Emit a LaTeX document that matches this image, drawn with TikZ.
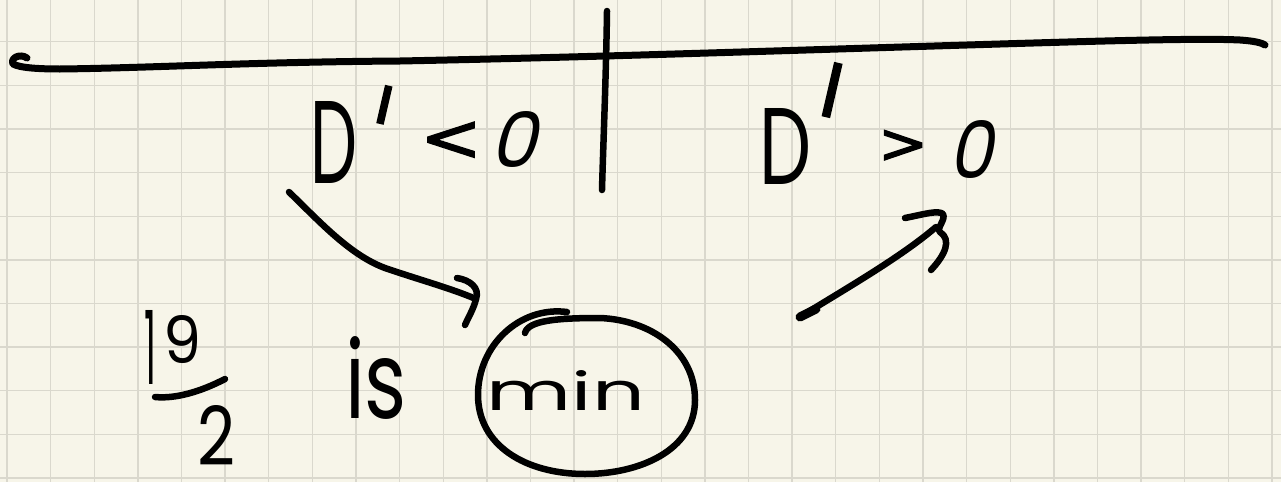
\documentclass[tikz,border=0pt]{standalone}
\usepackage{fontspec}
\usepackage{graphicx}
\newfontfamily\hand{Poppins}
\newfontfamily\relfont[FakeBold=2]{DejaVu Sans}
\definecolor{paper}{RGB}{247,245,233}
\definecolor{rule}{RGB}{218,216,205}
% a glyph stretched to a given width and height (in pt)
\newcommand\glyphbox[3]{\resizebox{#1pt}{#2pt}{\hand #3}}
% marks trimmed to their ink before stretching
\newcommand\primebox[2]{\resizebox{#1pt}{#2pt}{\relfont\kern-0.09em\raisebox{-0.5em}[0.23em][0pt]{'}\kern-0.09em}}
\newcommand\relbox[3]{\resizebox{#1pt}{#2pt}{\relfont\kern-0.1em\raisebox{-0.12em}[0.5em][0pt]{#3}\kern-0.1em}}
\begin{document}
\begin{tikzpicture}[x=1pt,y=-1pt,
  ink/.style={draw=black,line width=6.5pt,line cap=round,line join=round},
  gridline/.style={draw=rule,line width=1.4pt},
  glyph/.style={inner sep=0pt,outer sep=0pt,text=black,anchor=center}]
% paper and squared grid
\fill[paper] (0,0) rectangle (1281,482);
\useasboundingbox (0,0) rectangle (1281,482);
\foreach \k in {0,...,29} \draw[gridline] ({7+43.62*\k},0) -- ({7+43.62*\k},482);
\foreach \k in {1,...,11} \draw[gridline] (0,{-1.9+43.62*\k}) -- (1281,{-1.9+43.62*\k});

% number line with the split at the critical point
\draw[ink,line width=7pt] (27,58) .. controls (20,53) and (10,58) .. (13,64)
  .. controls (20,68) and (40,69) .. (60,69)
  .. controls (150,68) and (250,62) .. (400,61)
  .. controls (600,57) and (800,50) .. (1000,44)
  .. controls (1100,41) and (1200,38) .. (1240,40)
  .. controls (1255,41) and (1262,43) .. (1265,45);
\draw[ink] (607,11) .. controls (606,80) and (603,150) .. (602,190);

% sign of D' on each side
\node[glyph] (dL) at (334,142) {\glyphbox{47}{82}{D}};
\node[glyph,rotate=-13] (primeL) at (385,102) {\primebox{7}{31}};
\node[glyph] (ltL) at (451,136) {\relbox{47}{33}{<}};
\node[glyph,xslant=0.25] (zeroL) at (520,139) {\glyphbox{46}{56}{0}};

\node[glyph] (dR) at (786,146) {\glyphbox{52}{76}{D}};
\node[glyph,rotate=-13] (primeR) at (833,86) {\primebox{8}{44}};
\node[glyph] (gtR) at (903,142) {\relbox{38}{28}{>}};
\node[glyph,xslant=0.2] (zeroR) at (976,149) {\glyphbox{44}{58}{0}};

% 19/2 is min
\node[glyph] (one) at (150,347) {\glyphbox{12}{74}{1}};
\node[glyph] (nine) at (183,340) {\glyphbox{38}{48}{9}};
\coordinate (barL) at (155,397);
\coordinate (barR) at (225,379);
\draw[ink] (barL) .. controls (175,399) and (200,392) .. (barR);
\node[glyph] (two) at (216,435) {\glyphbox{38}{60}{2}};
\node[glyph] (is) at (376,378) {\glyphbox{62}{82}{is}};
\node[glyph] (min) at (566,390) {\glyphbox{158}{40}{min}};

% loop round "min"
\draw[ink] (525,333) .. controls (528,320) and (560,318) .. (600,318)
  .. controls (650,320) and (695,350) .. (695,400)
  .. controls (695,450) and (640,474) .. (585,474)
  .. controls (525,474) and (478,445) .. (478,395)
  .. controls (478,345) and (520,306) .. (567,312);

% decreasing part leads down into the minimum
\coordinate (a1s) at (289,192);
\coordinate (a1e) at (476,299);
\draw[ink] (a1s) .. controls (320,222) and (350,255) .. (385,268)
  .. controls (420,280) and (450,288) .. (a1e);
\draw[ink] (457,278) .. controls (470,280) and (480,288) .. (a1e)
  .. controls (474,308) and (468,318) .. (465,325);

% increasing part leaves the minimum
\coordinate (a2s) at (800,317);
\coordinate (a2e) at (936,227);
\draw[ink] (a2s) .. controls (840,292) and (900,258) .. (a2e);
\draw[ink,line width=9pt] (a2s) -- (816,309);
\draw[ink] (905,218) .. controls (925,214) and (938,210) .. (943,214)
  .. controls (946,220) and (936,228) .. (940,232)
  .. controls (952,240) and (945,255) .. (931,270);
\end{tikzpicture}
\end{document}
